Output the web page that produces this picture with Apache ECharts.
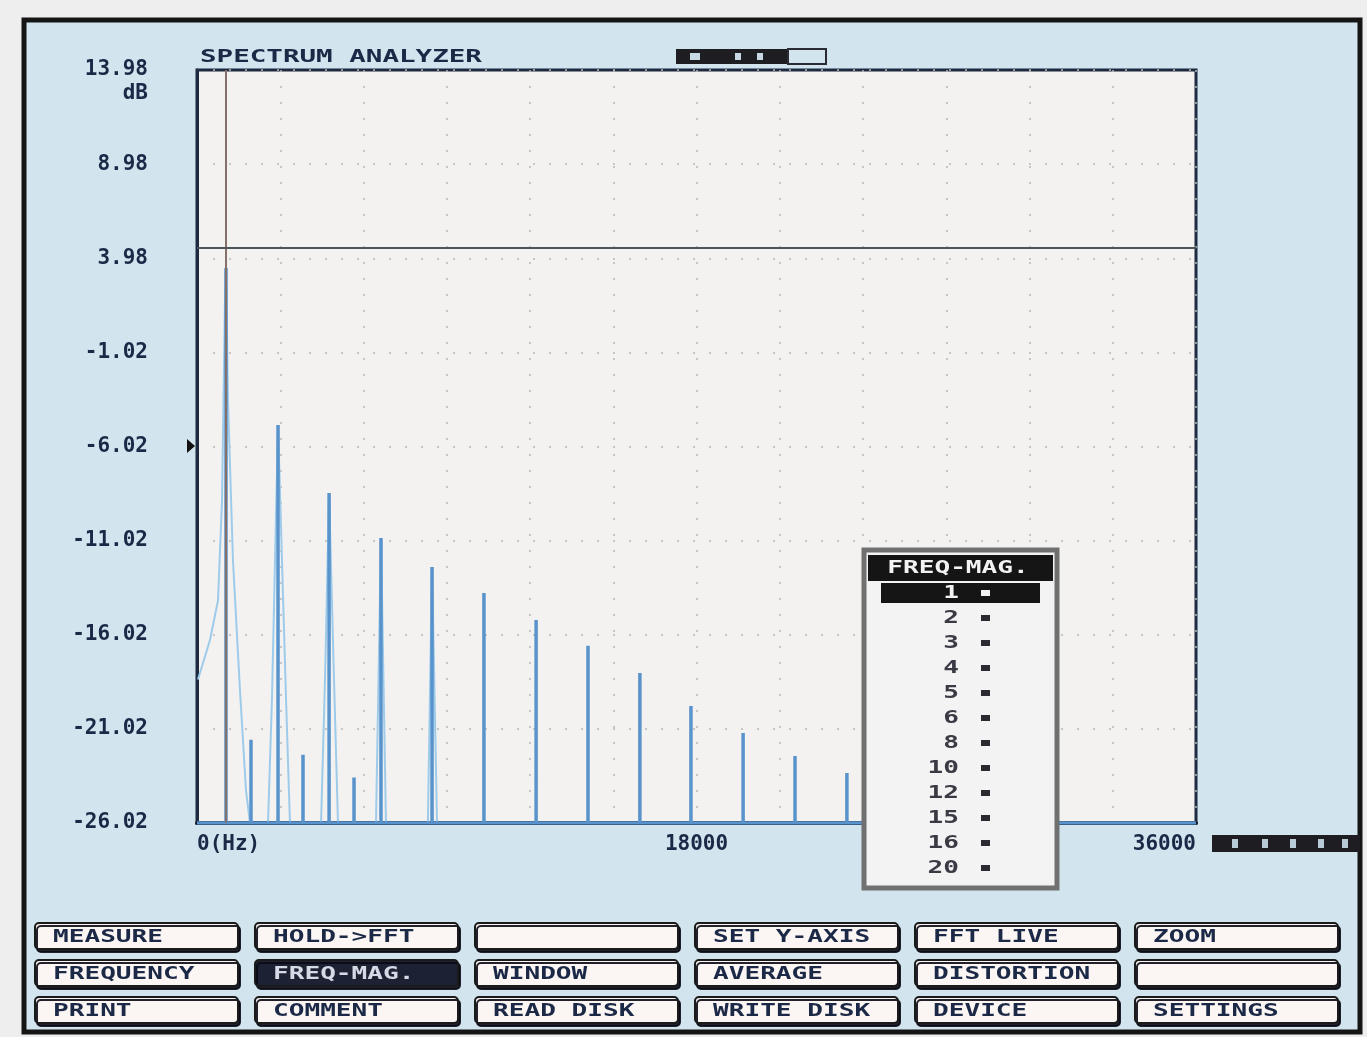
<!DOCTYPE html>
<html><head><meta charset="utf-8">
<script src="https://cdn.jsdelivr.net/npm/echarts@6/dist/echarts.min.js"></script>
<style>html,body{margin:0;padding:0;background:#eeeeee;}#c{width:1367px;height:1037px;}</style>
</head><body><div id="c"></div>
<script>
// ---- data ----
const yMin = -26.02, yMax = 13.98, yStep = 5;
const xMin = 0, xMax = 36000, xStep = 3000;
const xTickLabels = { 0: '0(Hz)', 18000: '18000', 36000: '36000' };
const floorLevel = -26.02;
// main (odd) harmonic lines
const peakFreqs  = [1045, 2920, 4760, 6630, 8470, 10340, 12220, 14090, 15960, 17800, 19680, 21550, 23420];
const peakLevels = [3.46, -4.88, -8.49, -10.88, -12.42, -13.80, -15.24, -16.60, -18.05, -19.80, -21.24, -22.46, -23.36];
// small even harmonic lines
const evenFreqs  = [1946, 3820, 5658];
const evenLevels = [-21.6, -22.4, -23.6];
// window leakage skirts [Hz, dB]
const skirtFund = [[36,-18.4],[468,-16.3],[757,-14.2],[901,-8.9],[1009,1.8],[1045,3.46],[1117,-3.6],[1297,-12.1],[1550,-19.0],[1766,-24.3],[1910,-26.02]];
const skirt3 = [[2560,-26.02],[2700,-19.5],[2920,-4.88],[3210,-19.5],[3350,-26.02]];
const skirt5 = [[4470,-26.02],[4620,-18.0],[4760,-8.49],[4930,-18.0],[5080,-26.02]];
const skirt7 = [[6450,-26.02],[6630,-10.88],[6810,-26.02]];
const skirt9 = [[8320,-26.02],[8470,-12.42],[8650,-26.02]];
const cursorFreq = 1045;
const thresholdLevel = 4.52;
// UI text
const menuTitle = 'FREQ-MAG.';
const menuItems = ['1','2','3','4','5','6','8','10','12','15','16','20'];
const buttonRows = [
  ['MEASURE','HOLD->FFT','','SET Y-AXIS','FFT LIVE','ZOOM'],
  ['FREQUENCY','FREQ-MAG.','WINDOW','AVERAGE','DISTORTION',''],
  ['PRINT','COMMENT','READ DISK','WRITE DISK','DEVICE','SETTINGS']
];
const selectedButton = 'FREQ-MAG.';

// ---- build series data ----
const lines = peakFreqs.map((f,i)=>[f,peakLevels[i]]).concat(evenFreqs.map((f,i)=>[f,evenLevels[i]])).sort((a,b)=>a[0]-b[0]);
const peakData = [[xMin, floorLevel]];
lines.forEach(p=>{ peakData.push([p[0],floorLevel],[p[0],p[1]],[p[0],floorLevel]); });
peakData.push([xMax, floorLevel]);

const NAVY = '#1b2846';
const MONO = 'DejaVu Sans Mono';
const chart = echarts.init(document.getElementById('c'));

const graphics = [];
// outer panel
graphics.push({type:'rect', z:-100, silent:true, shape:{x:24,y:20,width:1336,height:1012}, style:{fill:'#d2e5ef', stroke:'#151515', lineWidth:5}});
// title
graphics.push({type:'text', z:50, x:200, y:57, scaleX:1.53, style:{text:'SPECTRUM ANALYZER', font:'bold 18px '+MONO, fill:NAVY, align:'left', verticalAlign:'middle'}});
// garbled status blocks
graphics.push({type:'rect', z:50, shape:{x:676,y:49,width:112,height:15}, style:{fill:'#1d1d22'}});
graphics.push({type:'rect', z:50, shape:{x:690,y:53,width:10,height:7}, style:{fill:'#c8d8e4'}});
graphics.push({type:'rect', z:50, shape:{x:735,y:53,width:6,height:7}, style:{fill:'#c8d8e4'}});
graphics.push({type:'rect', z:50, shape:{x:757,y:53,width:6,height:7}, style:{fill:'#c8d8e4'}});
graphics.push({type:'rect', z:50, shape:{x:788,y:49,width:38,height:15}, style:{fill:'none', stroke:'#2a2a35', lineWidth:2}});
graphics.push({type:'rect', z:50, shape:{x:1212,y:835,width:148,height:17}, style:{fill:'#1d1d22'}});
[1232,1262,1290,1318,1342].forEach(x=>graphics.push({type:'rect', z:51, shape:{x:x,y:839,width:6,height:9}, style:{fill:'#b9cad8'}}));
// level marker triangle
graphics.push({type:'polygon', z:50, shape:{points:[[187,439],[195,446],[187,453]]}, style:{fill:'#111'}});

// menu box
graphics.push({type:'rect', z:100, shape:{x:864,y:550,width:193,height:338}, style:{fill:'#f3f3f3', stroke:'#707070', lineWidth:5}});
graphics.push({type:'rect', z:101, shape:{x:868,y:555,width:185,height:26}, style:{fill:'#151515'}});
graphics.push({type:'text', z:102, x:958, y:568, scaleX:1.45, style:{text:menuTitle, font:'bold 18px '+MONO, fill:'#f2f2f2', align:'center', verticalAlign:'middle'}});
menuItems.forEach((t,i)=>{
  const y = 593 + i*25;
  const sel = i===0;
  if (sel) graphics.push({type:'rect', z:101, shape:{x:881,y:583,width:159,height:20}, style:{fill:'#151515'}});
  graphics.push({type:'text', z:102, x:959, y:y, scaleX:1.45, style:{text:t, font:'bold 18px '+MONO, fill: sel?'#f2f2f2':'#3a3a44', align:'right', verticalAlign:'middle'}});
  graphics.push({type:'rect', z:102, shape:{x:981,y:y-3,width:9,height:6}, style:{fill: sel?'#f2f2f2':'#2a2a30'}});
});

// buttons
const colX = [35,255,475,695,915,1135];
const rowY = [923,960,997];
buttonRows.forEach((row,r)=>row.forEach((t,c)=>{
  const sel = t===selectedButton;
  graphics.push({type:'rect', z:100, shape:{x:colX[c],y:rowY[r],width:203,height:26,r:4},
    style:{fill: sel?'#1c2233':'#fbf6f4', stroke:'#1a1a1a', lineWidth:2, shadowColor:'rgba(10,10,20,0.9)', shadowOffsetX:2, shadowOffsetY:3, shadowBlur:0}});
  if (t) graphics.push({type:'text', z:101, x:colX[c]+18, y:rowY[r]+14, scaleX:1.45,
    style:{text:t, font:'bold 18px '+MONO, fill: sel?'#d5dae6':NAVY, align:'left', verticalAlign:'middle'}});
}));

const option = {
  animation:false,
  backgroundColor:'transparent',
  grid:{left:197, top:70, width:999, height:753, show:true, backgroundColor:'#f3f2f1', borderColor:'#1e2a40', borderWidth:3, containLabel:false},
  xAxis:{type:'value', min:xMin, max:xMax, interval:xStep,
    axisLine:{show:true, onZero:false, lineStyle:{color:'#151a28', width:4}},
    axisTick:{show:false},
    splitLine:{show:true, lineStyle:{color:'#b8b8b8', width:1.5, type:[2,14]}},
    axisLabel:{margin:11, color:NAVY, fontFamily:MONO, fontWeight:'bold', fontSize:21,
      alignMinLabel:'left', alignMaxLabel:'right', showMinLabel:true, showMaxLabel:true,
      formatter:v=> (xTickLabels[v] !== undefined ? xTickLabels[v] : '')}},
  yAxis:{type:'value', min:yMin, max:yMax, interval:yStep,
    axisLine:{show:true, lineStyle:{color:'#1e2a40', width:3}},
    axisTick:{show:false},
    splitLine:{show:true, lineStyle:{color:'#b8b8b8', width:1.5, type:[2,14]}},
    axisLabel:{margin:49, color:NAVY, fontFamily:MONO, fontWeight:'bold', fontSize:21, showMinLabel:true, showMaxLabel:true,
      formatter:v=> Math.abs(v-yMax)<0.005 ? '{e| }\n{v|'+yMax.toFixed(2)+'}\n{u|dB}' : v.toFixed(2),
      rich:{e:{lineHeight:24,fontSize:21,fontFamily:MONO,fontWeight:'bold',color:NAVY,align:'right'},
            v:{lineHeight:24,fontSize:21,fontFamily:MONO,fontWeight:'bold',color:NAVY,align:'right'},
            u:{lineHeight:24,fontSize:21,fontFamily:MONO,fontWeight:'bold',color:NAVY,align:'right'}}}},
  series:[
    ...[skirtFund, skirt3, skirt5, skirt7, skirt9].map(s=>({type:'line', data:s, showSymbol:false, z:3,
      lineStyle:{color:'#9ecbea', width:2}})),
    {type:'line', data:peakData, showSymbol:false, z:4, lineStyle:{color:'#5893cc', width:3.5},
      markLine:{silent:true, symbol:'none', label:{show:false},
        data:[{xAxis:cursorFreq, lineStyle:{color:'#86706a', width:2, type:'solid'}},
              {yAxis:thresholdLevel, lineStyle:{color:'#4f5458', width:2, type:'solid'}}]}}
  ],
  graphic:graphics
};
chart.setOption(option);
</script></body></html>
